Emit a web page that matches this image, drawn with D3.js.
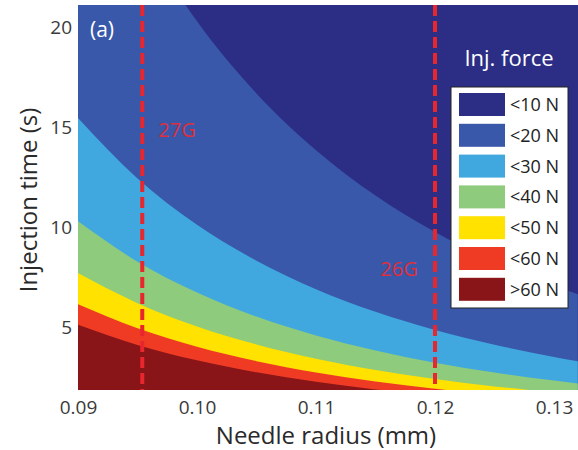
<!DOCTYPE html>
<html>
<head>
<meta charset="utf-8">
<script src="https://cdn.jsdelivr.net/npm/d3@7"></script>
<style>
body { margin: 0; background: #fff; }
text { font-family: "Open Sans", Lato, sans-serif; }
</style>
</head>
<body>
<svg id="chart" width="578" height="450"></svg>
<script>
// needle radius (mm) sample points along the contour lines
var radius = [0.09, 0.095, 0.10, 0.105, 0.11, 0.115, 0.12, 0.125, 0.13, 0.132];
// injection time (s) where force reaches each level
var t10 = [30.92, 24.91, 20.29, 16.69, 13.86, 11.60, 9.78, 8.31, 7.10, 6.68];
var t20 = [15.46, 12.45, 10.14, 8.35, 6.93, 5.80, 4.89, 4.16, 3.55, 3.34];
var t30 = [10.31, 8.30, 6.76, 5.56, 4.62, 3.87, 3.26, 2.77, 2.37, 2.23];
var t40 = [7.73, 6.23, 5.07, 4.17, 3.46, 2.90, 2.45, 2.08, 1.78, 1.67];
var t50 = [6.18, 4.98, 4.06, 3.34, 2.77, 2.32, 1.96, 1.66, 1.42, 1.34];
var t60 = [5.15, 4.15, 3.38, 2.78, 2.31, 1.93, 1.63, 1.39, 1.18, 1.11];
var levels = ["<10 N", "<20 N", "<30 N", "<40 N", "<50 N", "<60 N", ">60 N"];
var colors = ["#2c2e86", "#3a58a9", "#40a8df", "#8ecb7c", "#ffe200", "#ef3b24", "#8a1518"];
var gauges = [{name: "27G", r: 0.0954}, {name: "26G", r: 0.1200}];
var xTicks = [0.09, 0.10, 0.11, 0.12, 0.13];
var yTicks = [5, 10, 15, 20];

var svg = d3.select("#chart");
var pL = 78, pR = 578, pT = 5, pB = 390;

var x = d3.scaleLinear().domain([0.09, 0.09 + (pR - pL) / 11900]).range([pL, pR]);
var y = d3.scaleLinear().domain([1.9, 21.1]).range([pB, pT]);

var bounds = [t10, t20, t30, t40, t50, t60];

svg.append("clipPath").attr("id", "plotclip")
	.append("rect").attr("x", pL).attr("y", pT).attr("width", pR - pL).attr("height", pB - pT);

var plot = svg.append("g").attr("clip-path", "url(#plotclip)");

// lowest-force band is the background
plot.append("rect").attr("x", pL).attr("y", pT).attr("width", pR - pL).attr("height", pB - pT)
	.attr("fill", colors[0]);

// each higher band fills everything under its boundary
bounds.forEach(function(b, i) {
	var area = d3.area()
		.x(function(d, j) { return x(radius[j]); })
		.y0(pB)
		.y1(function(d) { return y(d); })
		.curve(d3.curveMonotoneX);
	plot.append("path").attr("d", area(b)).attr("fill", colors[i + 1]);
});

// gauge lines
gauges.forEach(function(g) {
	plot.append("line")
		.attr("x1", x(g.r)).attr("x2", x(g.r))
		.attr("y1", pT).attr("y2", pB)
		.attr("stroke", "#e8262d").attr("stroke-width", 4)
		.attr("stroke-dasharray", "11,5");
});
svg.append("text").attr("x", 177).attr("y", 137).attr("text-anchor", "middle")
	.attr("fill", "#de2f3e").attr("font-size", 20).text(gauges[0].name);
svg.append("text").attr("x", 399).attr("y", 276).attr("text-anchor", "middle")
	.attr("fill", "#de2f3e").attr("font-size", 20).text(gauges[1].name);

svg.append("text").attr("x", 90).attr("y", 37).attr("fill", "#fff").attr("font-size", 21).text("(a)");

// axes
var xAxis = svg.append("g").attr("transform", "translate(0," + pB + ")")
	.call(d3.axisBottom(x).tickValues(xTicks).tickFormat(d3.format(".2f")).tickSize(0).tickPadding(11));
var yAxis = svg.append("g").attr("transform", "translate(" + pL + ",0)")
	.call(d3.axisLeft(y).tickValues(yTicks).tickSize(0).tickPadding(6));
[xAxis, yAxis].forEach(function(a) {
	a.select(".domain").remove();
	a.selectAll("text").attr("font-size", 19).attr("fill", "#3a3a3a")
		.attr("font-family", "'Open Sans', Lato, sans-serif");
});

svg.append("text").attr("x", 326).attr("y", 444).attr("text-anchor", "middle")
	.attr("font-size", 24).attr("fill", "#2a2a2a").text("Needle radius (mm)");
svg.append("text").attr("transform", "translate(37,200) rotate(-90)").attr("text-anchor", "middle")
	.attr("font-size", 24).attr("fill", "#2a2a2a").text("Injection time (s)");

// legend
svg.append("text").attr("x", 509).attr("y", 66).attr("text-anchor", "middle")
	.attr("fill", "#fff").attr("font-size", 22).text("Inj. force");
svg.append("rect").attr("x", 451).attr("y", 87).attr("width", 117).attr("height", 221)
	.attr("fill", "#fff").attr("stroke", "#222").attr("stroke-width", 1);
var leg = svg.selectAll("g.leg").data(levels).enter().append("g").attr("class", "leg")
	.attr("transform", function(d, i) { return "translate(459," + (93 + i * 30.8) + ")"; });
leg.append("rect").attr("width", 46).attr("height", 23).attr("fill", function(d, i) { return colors[i]; });
leg.append("text").attr("x", 51).attr("y", 18).attr("font-size", 18).attr("fill", "#222").text(function(d) { return d; });
</script>
</body>
</html>
